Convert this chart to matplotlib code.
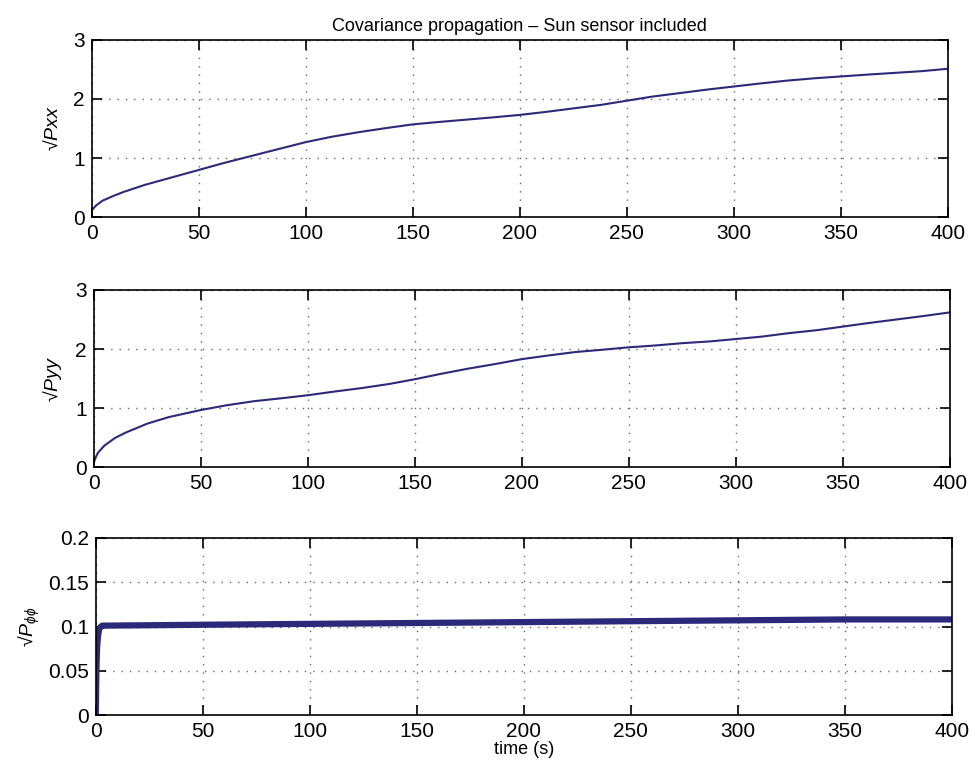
import numpy as np
import matplotlib.pyplot as plt

plt.rcParams['font.family'] = ['Liberation Sans', 'DejaVu Sans']
plt.rcParams['mathtext.fontset'] = 'custom'
plt.rcParams['mathtext.rm'] = 'Liberation Sans'
plt.rcParams['mathtext.it'] = 'Liberation Sans:italic'

# values
t_xx = [0, 2, 5, 10, 15, 25, 35, 50, 62, 75, 88, 100, 112, 125, 138, 150, 162, 175, 188,
        200, 212, 225, 238, 250, 262, 275, 288, 300, 312, 325, 338, 350, 362, 375, 388, 400]
p_xx = [0.12, 0.2, 0.28, 0.36, 0.43, 0.55, 0.65, 0.8, 0.92, 1.04, 1.16, 1.27, 1.36, 1.44, 1.51,
        1.57, 1.61, 1.65, 1.69, 1.73, 1.78, 1.84, 1.9, 1.97, 2.04, 2.1, 2.16, 2.21, 2.26, 2.31,
        2.35, 2.38, 2.41, 2.44, 2.47, 2.51]

t_yy = [0, 1, 2, 5, 10, 15, 25, 35, 50, 62, 75, 88, 100, 112, 125, 138, 150, 162, 175, 188,
        200, 212, 225, 238, 250, 262, 275, 288, 300, 312, 325, 338, 350, 362, 375, 388, 400]
p_yy = [0.08, 0.18, 0.25, 0.37, 0.5, 0.59, 0.74, 0.85, 0.97, 1.05, 1.12, 1.17, 1.22, 1.28, 1.34,
        1.41, 1.49, 1.58, 1.67, 1.75, 1.83, 1.89, 1.95, 1.99, 2.03, 2.06, 2.1, 2.13, 2.17, 2.21,
        2.27, 2.32, 2.38, 2.44, 2.5, 2.56, 2.62]

t_ff = [0, 0.3, 0.6, 1, 1.5, 2, 3, 50, 100, 150, 200, 250, 300, 350, 400]
p_ff = [0.0, 0.05, 0.075, 0.088, 0.096, 0.099, 0.101, 0.102, 0.103, 0.104, 0.105, 0.106, 0.107, 0.108, 0.108]

line_col = '#2b2a7a'

fig = plt.figure(figsize=(9.77, 7.65), dpi=100)
ax1 = fig.add_axes([0.094, 0.716, 0.876, 0.232])
ax2 = fig.add_axes([0.096, 0.389, 0.876, 0.232])
ax3 = fig.add_axes([0.098, 0.065, 0.876, 0.232])

ax1.plot(t_xx, p_xx, color=line_col, lw=1.5)
ax2.plot(t_yy, p_yy, color=line_col, lw=1.5)
ax3.plot(t_ff, p_ff, color=line_col, lw=4.5)

for ax in (ax1, ax2, ax3):
    ax.set_xlim(0, 400)
    ax.set_xticks(np.arange(0, 401, 50))
    ax.grid(True, linestyle=(0, (1, 5)), color='#666666', linewidth=1.0)
    ax.tick_params(direction='in', top=True, right=True, length=7, width=1.2,
                   labelsize=15, pad=5)
    for s in ax.spines.values():
        s.set_linewidth(1.2)

ax1.set_ylim(0, 3)
ax1.set_yticks([0, 1, 2, 3])
ax2.set_ylim(0, 3)
ax2.set_yticks([0, 1, 2, 3])
ax3.set_ylim(0, 0.2)
ax3.set_yticks([0, 0.05, 0.1, 0.15, 0.2])
ax3.set_yticklabels(['0', '0.05', '0.1', '0.15', '0.2'])

ax1.set_title('Covariance propagation – Sun sensor included', fontsize=13, pad=6)
ax1.set_ylabel('√$\\it{Pxx}$', fontsize=14, labelpad=8)
ax2.set_ylabel('√$\\it{Pyy}$', fontsize=14, labelpad=8)
ax3.set_ylabel('√$P_{\\phi\\phi}$', fontsize=14, labelpad=4)
ax3.set_xlabel('time (s)', fontsize=13, labelpad=0)

fig.savefig('out.png', dpi=100)
